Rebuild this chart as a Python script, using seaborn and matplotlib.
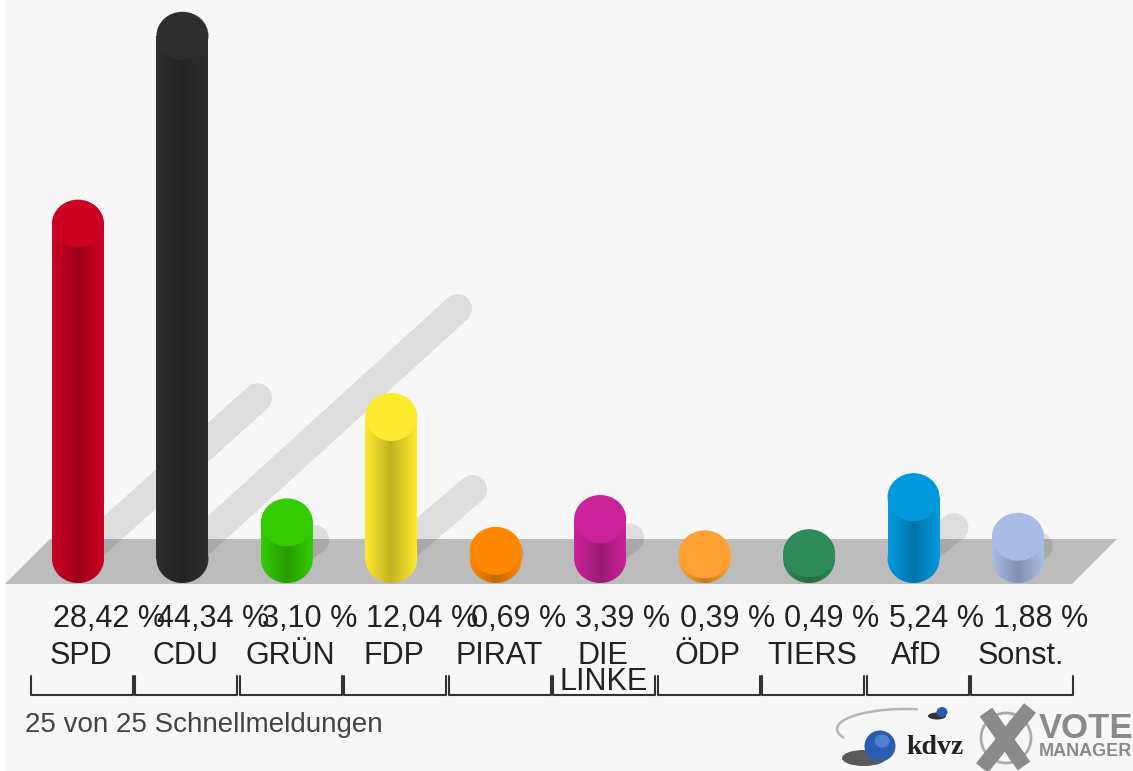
import numpy as np
import pandas as pd
import matplotlib
matplotlib.use("Agg")
import matplotlib.pyplot as plt
from matplotlib.patches import Ellipse, Polygon
from matplotlib.path import Path
import seaborn as sns

parties = ["SPD", "CDU", "GRÜN", "FDP", "PIRAT", "DIE LINKE", "ÖDP", "TIERS", "AfD", "Sonst."]
values = [28.42, 44.34, 3.10, 12.04, 0.69, 3.39, 0.39, 0.49, 5.24, 1.88]
value_labels = ["28,42 %", "44,34 %", "3,10 %", "12,04 %", "0,69 %",
                "3,39 %", "0,39 %", "0,49 %", "5,24 %", "1,88 %"]
tick_labels = ["SPD", "CDU", "GRÜN", "FDP", "PIRAT", "DIE\nLINKE", "ÖDP", "TIERS", "AfD", "Sonst."]
colors = ["#cc0022", "#2e2e2e", "#33cc00", "#fde92e", "#ff8800",
          "#cc2299", "#ffa033", "#2e8b57", "#0099dd", "#aabbe5"]
footer = "25 von 25 Schnellmeldungen"

# pixel layout of the picture
W, H = 1133, 771
X0, STEP = 78.0, 104.44
Y0, UNIT = 559.0, 11.8


def px(x):
    return (x - X0) / STEP


def py(y):
    return (Y0 - y) / UNIT


sns.set_theme(style="white")
plt.rcParams["font.family"] = ["Liberation Sans", "DejaVu Sans"]

fig = plt.figure(figsize=(W / 100, H / 100), dpi=100)
ax = fig.add_axes([0, 0, 1, 1])
ax.set_facecolor("white")
fig.patch.set_facecolor("white")

# background and floor
ax.add_patch(Polygon([(px(5), py(0)), (px(W), py(0)), (px(W), py(H)), (px(5), py(H))],
                     fc="#f7f7f7", ec="none", zorder=0))
ax.add_patch(Polygon([(px(5), py(584)), (px(50), py(539)), (px(1117), py(539)), (px(1072), py(584))],
                     fc="#bcbcbc", ec="none", zorder=1))

# shadows
for i, v in enumerate(values):
    ax.plot([i, i + (9 + 6.0 * v) / STEP], [0, (2 + 5.6 * v) / UNIT], color="black", alpha=0.1,
            lw=21, solid_capstyle="round", zorder=2)

df = pd.DataFrame({"party": parties, "value": values})
bar_w = 52 / STEP
cap_h = 48 / UNIT
sns.barplot(data=df, x="party", y="value", hue="party", palette=colors, order=parties,
            hue_order=parties, width=bar_w, dodge=False, legend=False, saturation=1,
            linewidth=0, zorder=3, ax=ax)

# cylinder shading
t = np.linspace(0, 1, 64)
shade = np.zeros((1, 64, 4))
shade[0, :, 3] = 0.24 * (1 - np.abs(2 * t - 1))
ang = np.linspace(np.pi, 2 * np.pi, 40)
for i, (v, c) in enumerate(zip(values, colors)):
    ax.add_patch(Ellipse((i, 0), bar_w, cap_h, fc=c, ec="none", zorder=3))
    outline = np.column_stack([i + bar_w / 2 * np.cos(ang), cap_h / 2 * np.sin(ang)])
    outline = np.vstack([outline, [i + bar_w / 2, v], [i - bar_w / 2, v]])
    im = ax.imshow(shade, extent=[i - bar_w / 2, i + bar_w / 2, -cap_h / 2, v],
                   aspect="auto", zorder=4, interpolation="bilinear")
    im.set_clip_path(Path(np.vstack([outline, outline[0]]), closed=True), transform=ax.transData)
    ax.add_patch(Ellipse((i, v), bar_w, cap_h, fc=c, ec="none", zorder=5))

# value labels, party labels, brackets
for i, lab in enumerate(value_labels):
    ax.text(i - 25 / STEP, py(619), lab, ha="left", va="center", fontsize=22, color="#222222", zorder=6)
for i, lab in enumerate(tick_labels):
    if "\n" in lab:
        first, second = lab.split("\n")
        ax.text(i + 3 / STEP, py(656), first, ha="center", va="center", fontsize=22, color="#222222")
        ax.text(i + 3 / STEP, py(682), second, ha="center", va="center", fontsize=22, color="#222222")
    else:
        ax.text(i + 3 / STEP, py(656), lab, ha="center", va="center", fontsize=22, color="#222222")
    ax.plot([i - 47 / STEP, i - 47 / STEP, i + 55 / STEP, i + 55 / STEP],
            [py(676), py(695), py(695), py(676)], color="#333333", lw=1.5, zorder=6)
ax.text(px(25), py(725), footer, ha="left", va="center", fontsize=20, color="#444444")

# kdvz logo
th = np.linspace(np.radians(80), np.radians(205), 40)
ax.plot(px(905 + 68 * np.cos(th)), py(729 - 20 * np.sin(th)), color="#b5b5b5", lw=1.8, zorder=6)
ax.add_patch(Ellipse((px(864), py(758)), 44 / STEP, 16 / UNIT, fc="#333333", ec="none", alpha=0.8, zorder=6))
ax.add_patch(Ellipse((px(880), py(746)), 31 / STEP, 31 / UNIT, fc="#2a5cb0", ec="none", zorder=7))
ax.add_patch(Ellipse((px(882), py(741)), 15 / STEP, 13 / UNIT, fc="#4f7fd0", ec="none", zorder=7))
ax.add_patch(Ellipse((px(937), py(716)), 18 / STEP, 7 / UNIT, fc="#333333", ec="none", zorder=6))
ax.add_patch(Ellipse((px(942), py(712)), 11 / STEP, 10 / UNIT, fc="#2a5cb0", ec="none", zorder=7))
ax.text(px(906), py(748), "kdvz", ha="left", va="center", fontsize=20, family="Liberation Serif",
        fontweight="bold", color="#222222", zorder=7)

# vote manager logo
ax.add_patch(Ellipse((px(1006), py(738)), 50 / STEP, 50 / UNIT, fc="none", ec="#aaaaaa", lw=2, zorder=6))
ax.plot([px(986), px(1024)], [py(712), py(766)], color="#8a8a8a", lw=11, solid_capstyle="butt", zorder=7)
ax.plot([px(1030), px(982)], [py(708), py(768)], color="#8a8a8a", lw=11, solid_capstyle="butt", zorder=7)
ax.text(px(1039), py(729), "VOTE", ha="left", va="center", fontsize=25, fontweight="bold", color="#8a8a8a", zorder=7)
ax.text(px(1039), py(752), "MANAGER", ha="left", va="center", fontsize=13, fontweight="bold", color="#8a8a8a", zorder=7)

ax.set_xlim(px(0), px(W))
ax.set_ylim(py(H), py(0))
ax.axis("off")

fig.savefig("out.png", dpi=100, facecolor=fig.get_facecolor())
